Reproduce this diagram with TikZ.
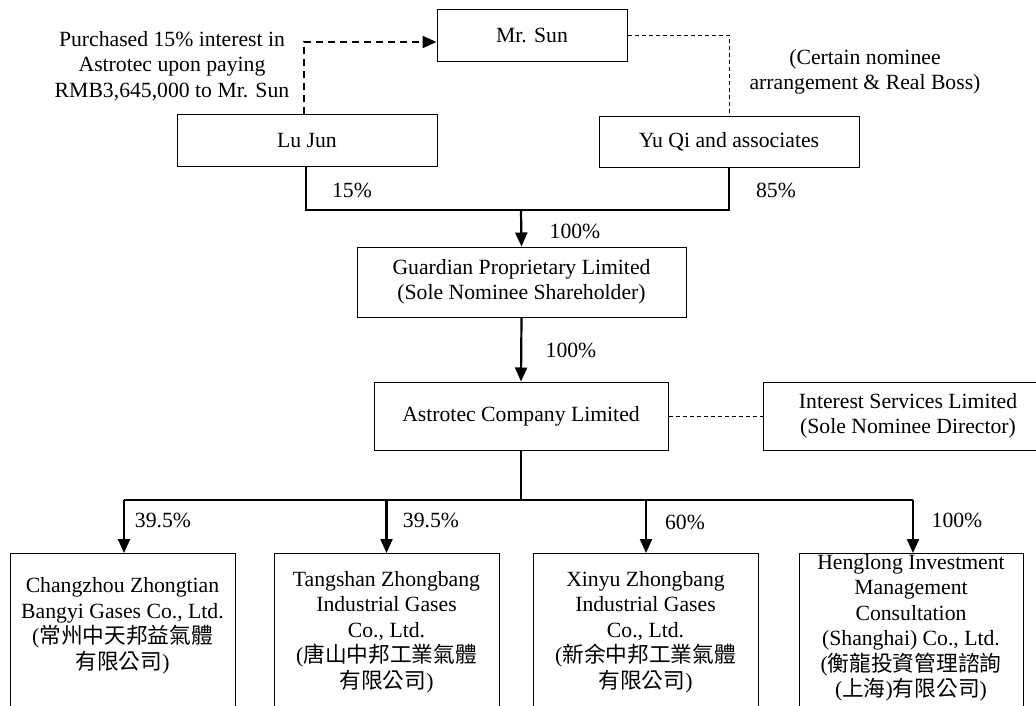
\documentclass[tikz,border=0pt]{standalone}
\usepackage{fontspec}
\setmainfont{Liberation Serif}
\newfontfamily\cjk{Noto Sans CJK TC}
\usetikzlibrary{arrows.meta}
\begin{document}
\begin{tikzpicture}[x=1pt,y=-1pt,
  font=\fontsize{21.7}{25.5}\selectfont,
  box/.style={draw,line width=1pt,inner sep=0pt,align=center},
  lbl/.style={inner sep=0pt,align=center},
  link/.style={line width=1.3pt},
  own/.style={line width=2.2pt,-{Triangle[length=14pt,width=12pt]}},
  thickdash/.style={line width=2.2pt,dash pattern=on 7pt off 5pt,-{Triangle[length=14pt,width=12pt]}},
  thindash/.style={line width=1pt,dash pattern=on 4pt off 3pt}]
\useasboundingbox (0,0) rectangle (1036,705);
\clip (0,0) rectangle (1036,705);
% top row
\node[box,minimum width=190pt,minimum height=52pt] (sun) at (532,35) {Mr. Sun};
\node[box,minimum width=260pt,minimum height=52pt] (lujun) at (307,140) {Lu Jun};
\node[box,minimum width=260pt,minimum height=51pt] (yuqi) at (729,141.5) {Yu Qi and associates};
\node[lbl] (purch) at (172,66) {Purchased 15\% interest in\\Astrotec upon paying\\RMB3,645,000 to Mr. Sun};
\node[lbl] (cert) at (865,72) {(Certain nominee\\arrangement \& Real Boss)};
\coordinate (dl) at (304,114);
\coordinate (dc) at (304,42);
\draw[thickdash] (dl) -- (dc) -- (sun.west |- dc);
\coordinate (yc) at (729,35);
\draw[thindash] (sun.east |- yc) -- (yc) -- (yuqi.north);
% merge
\coordinate (lj) at (306,210);
\coordinate (yq) at (729,210);
\draw[link] (lujun.south -| lj) -- (lj) -- (yq) -- (yuqi.south);
\node[lbl] (p15) at (352,190) {15\%};
\node[lbl] (p85) at (776,190) {85\%};
% guardian
\node[box,minimum width=329pt,minimum height=70pt] (guard) at (521.5,282) {Guardian Proprietary Limited\\(Sole Nominee Shareholder)};
\coordinate (gm) at (521,210);
\draw[own] (gm) -- (guard.north);
\node[lbl] (p100a) at (575,231) {100\%};
% astrotec
\node[box,minimum width=294pt,minimum height=68pt] (astro) at (521,416) {Astrotec Company Limited};
\draw[own] (guard.south) -- (astro.north);
\node[lbl] (p100b) at (571,350) {100\%};
\node[box,minimum width=290pt,minimum height=68pt] (inter) at (908,416) {Interest Services Limited\\(Sole Nominee Director)};
\draw[thindash] (astro.east) -- (inter.west);
% bottom row
\coordinate (bus) at (521,500);
\coordinate (b1) at (124,500);
\coordinate (b4) at (913,500);
\draw[link] (astro.south) -- (bus);
\draw[link] (b1) -- (b4);
\node[box,minimum width=225pt,minimum height=160pt,anchor=north] (c1) at (122.5,553) {};
\node[box,minimum width=225pt,minimum height=160pt,anchor=north] (c2) at (386.5,553) {};
\node[box,minimum width=225pt,minimum height=160pt,anchor=north] (c3) at (645.5,553) {};
\node[box,minimum width=224pt,minimum height=160pt,anchor=north] (c4) at (911,553) {};
\node[lbl] (t1) at (122.5,626) {Changzhou Zhongtian\\Bangyi Gases Co., Ltd.\\({\cjk 常州中天邦益氣體}\\{\cjk 有限公司})};
\node[lbl] (t2) at (386.5,632) {Tangshan Zhongbang\\Industrial Gases\\Co., Ltd.\\({\cjk 唐山中邦工業氣體}\\{\cjk 有限公司})};
\node[lbl] (t3) at (645.5,632) {Xinyu Zhongbang\\Industrial Gases\\Co., Ltd.\\({\cjk 新余中邦工業氣體}\\{\cjk 有限公司})};
\node[lbl] (t4) at (911,628) {Henglong Investment\\Management\\Consultation\\(Shanghai) Co., Ltd.\\({\cjk 衡龍投資管理諮詢}\\({\cjk 上海}){\cjk 有限公司})};
\draw[own] (b1) -- (c1.north -| b1);
\draw[own] (b1 -| c2.north) -- (c2.north);
\coordinate (b3) at (646,500);
\draw[own] (b3) -- (c3.north -| b3);
\draw[own] (b4) -- (c4.north -| b4);
\node[lbl] (q1) at (163,520) {39.5\%};
\node[lbl] (q2) at (431,520) {39.5\%};
\node[lbl] (q3) at (685,522) {60\%};
\node[lbl] (q4) at (957,520) {100\%};
\end{tikzpicture}
\end{document}
